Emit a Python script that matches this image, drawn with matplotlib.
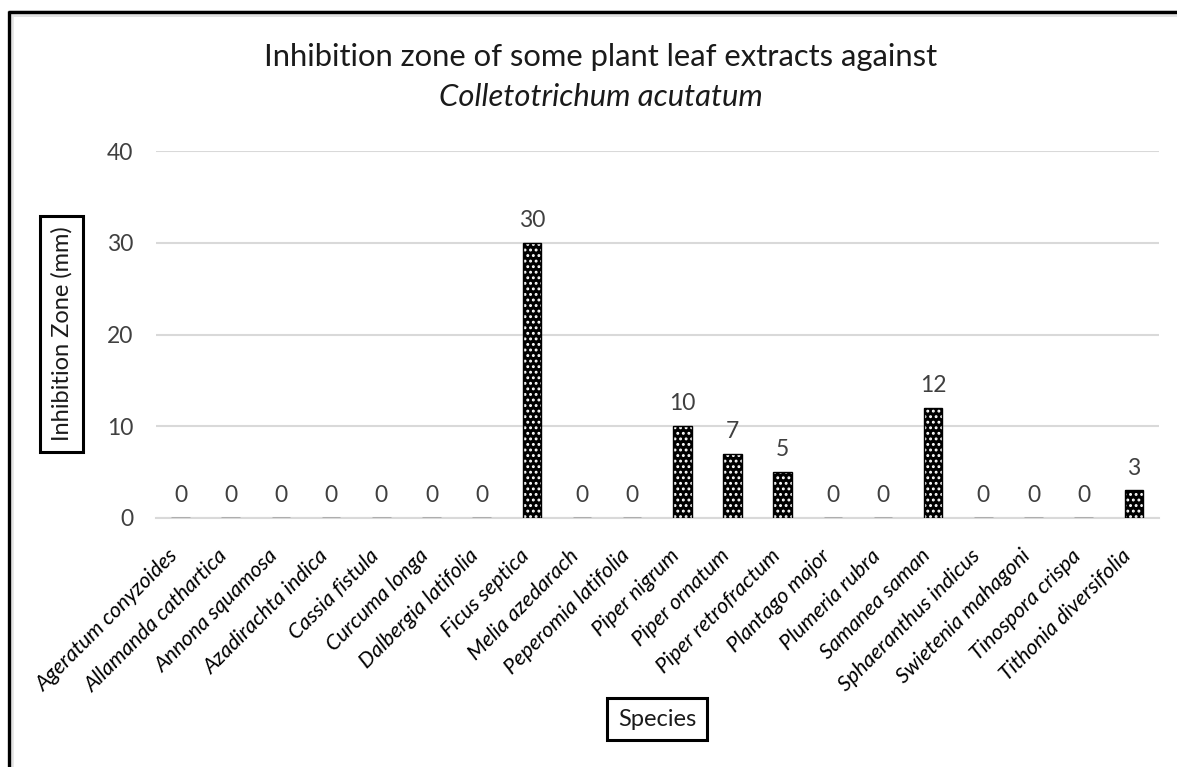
import matplotlib
matplotlib.use("Agg")
import matplotlib.pyplot as plt
from matplotlib.lines import Line2D
from matplotlib.transforms import ScaledTranslation

plt.rcParams["font.family"] = ["Lato", "DejaVu Sans"]
plt.rcParams["hatch.color"] = "white"
plt.rcParams["hatch.linewidth"] = 1.3

species = [
    "Ageratum conyzoides", "Allamanda cathartica", "Annona squamosa",
    "Azadirachta indica", "Cassia fistula", "Curcuma longa",
    "Dalbergia latifolia", "Ficus septica", "Melia azedarach",
    "Peperomia latifolia", "Piper nigrum", "Piper ornatum",
    "Piper retrofractum", "Plantago major", "Plumeria rubra",
    "Samanea saman", "Sphaeranthus indicus", "Swietenia mahagoni",
    "Tinospora crispa", "Tithonia diversifolia",
]
zone_mm = [0, 0, 0, 0, 0, 0, 0, 30, 0, 0, 10, 7, 5, 0, 0, 12, 0, 0, 0, 3]
y_ticks = [0, 10, 20, 30, 40]

W, H = 1177, 767
fig = plt.figure(figsize=(W / 100, H / 100), dpi=100)
ax = fig.add_axes([155.5 / W, 1 - 518 / H, (1159 - 155.5) / W, (518 - 151) / H])

x = range(len(species))
ax.bar(x, zone_mm, width=0.37, color="black", edgecolor=None,
       hatch="...", linewidth=0, zorder=3)
ax.bar(x, zone_mm, width=0.37, color="none", edgecolor="black",
       linewidth=1.0, zorder=4)

for xi, v in zip(x, zone_mm):
    ax.text(xi, v + 1.3, f"{v}", ha="center", va="bottom",
            fontsize=16.5, color="#404040")

ax.set_xlim(-0.5, len(species) - 0.5)
ax.set_ylim(0, 40)
ax.set_yticks(y_ticks)
ax.set_yticklabels([str(t) for t in y_ticks], fontsize=16.5, color="#404040")
ax.tick_params(axis="y", length=0, pad=16)
ax.tick_params(axis="x", length=0, pad=25)
ax.set_xticks(list(x))
ax.set_xticklabels(species, rotation=45, ha="right", va="center",
                   rotation_mode="anchor", fontsize=15.5, style="italic",
                   color="black")
shift = ScaledTranslation(-6 / 100, 0, fig.dpi_scale_trans)
for lbl in ax.get_xticklabels():
    lbl.set_transform(lbl.get_transform() + shift)
ax.yaxis.grid(True, color="#d9d9d9", linewidth=1.5, zorder=0)
ax.set_axisbelow(True)
for s in ["top", "right", "left"]:
    ax.spines[s].set_visible(False)
ax.spines["bottom"].set_color("#d9d9d9")
ax.spines["bottom"].set_linewidth(1.5)

fig.text(601 / W, 1 - 57 / H, "Inhibition zone of some plant leaf extracts against",
         ha="center", va="center", fontsize=22.3, color="#1a1a1a")
fig.text(601 / W, 1 - 97 / H, "Colletotrichum acutatum", ha="center", va="center",
         fontsize=22.3, style="italic", color="#1a1a1a")

box = dict(boxstyle="square,pad=0.45", facecolor="white", edgecolor="black", linewidth=2.2)
fig.text(61.5 / W, 1 - 441 / H, "Inhibition Zone (mm)", rotation=90,
         ha="center", va="bottom", fontsize=17, color="#1a1a1a", bbox=box)
fig.text(657 / W, 1 - 719 / H, "Species", ha="center", va="center",
         fontsize=17, color="#1a1a1a", bbox=box)

# outer border (top and left) with light shadow
fig.add_artist(Line2D([9 / W, 1], [1 - 13 / H] * 2, color="#e3e3e3",
                      linewidth=5, transform=fig.transFigure, solid_capstyle="butt"))
fig.add_artist(Line2D([11 / W] * 2, [0, 1 - 12 / H], color="#e3e3e3",
                      linewidth=4, transform=fig.transFigure, solid_capstyle="butt"))
fig.add_artist(Line2D([8 / W, 1], [1 - 12 / H] * 2, color="black",
                      linewidth=2.4, transform=fig.transFigure, solid_capstyle="butt"))
fig.add_artist(Line2D([9 / W] * 2, [0, 1 - 11 / H], color="black",
                      linewidth=2.4, transform=fig.transFigure, solid_capstyle="butt"))

fig.savefig("out.png", dpi=100, facecolor="white")
